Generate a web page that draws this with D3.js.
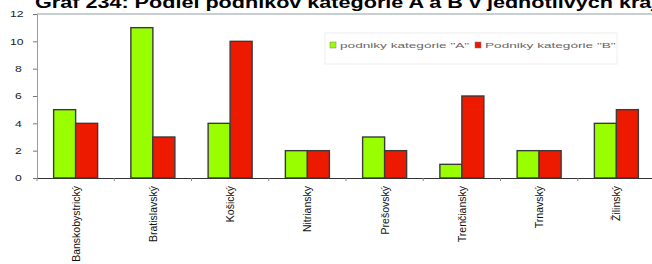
<!DOCTYPE html>
<html>
<head>
<meta charset="utf-8">
<script src="https://cdn.jsdelivr.net/npm/d3@7"></script>
<style>
  body { margin: 0; background: #fff; }
  svg { display: block; font-family: "Liberation Sans", Arial, sans-serif; }
</style>
</head>
<body>
<div id="chart"></div>
<script>
// data
var regions = ['Banskobystrický', 'Bratislavský', 'Košický', 'Nitriansky', 'Prešovský', 'Trenčiansky', 'Trnavský', 'Žilinský']
var catA = [5, 11, 4, 2, 3, 1, 2, 4]
var catB = [4, 3, 10, 2, 2, 6, 2, 5]
var yTicks = [0, 2, 4, 6, 8, 10, 12]
var seriesNames = ['podniky kategórie "A"', 'Podniky kategórie "B"']
var seriesColors = ['#99ff00', '#ee1a00']

var width = 652, height = 264
var margin = { top: 14, left: 37, bottom: 86 }
var plotW = 618
var plotH = height - margin.top - margin.bottom

// the source picture is stretched sideways, so widen texts a bit
function stretch(sel, k) {
    sel.each(function () {
        var w = this.getComputedTextLength()
        d3.select(this).attr('textLength', w * k).attr('lengthAdjust', 'spacingAndGlyphs')
    })
}

var svg = d3.select('#chart').append('svg')
    .attr('width', width)
    .attr('height', height)

// title, cut off at the top like the reference
svg.append('text')
    .attr('x', 35)
    .attr('y', 8)
    .style('font-size', '17px')
    .style('font-weight', 'bold')
    .attr('fill', '#000')
    .text('Graf 234: Podiel podnikov kategórie A a B v jednotlivých krajoch')
    .call(stretch, 1.27)

var g = svg.append('g')
    .attr('transform', `translate(${margin.left},${margin.top})`)

var x = d3.scaleBand().domain(regions).range([0, plotW])
var y = d3.scaleLinear().domain([0, 12]).range([plotH, 0])

// plot area frame (top line)
g.append('line')
    .attr('x1', 0).attr('x2', plotW)
    .attr('y1', 0).attr('y2', 0)
    .attr('stroke', '#8e9ea8')

// y axis
var yAxis = g.append('g')
    .call(d3.axisLeft(y).tickValues(yTicks).tickSize(4).tickPadding(13))
yAxis.select('.domain').attr('stroke', '#8e9ea8')
yAxis.selectAll('.tick line').attr('stroke', '#777')
yAxis.selectAll('text')
    .style('font-size', '9px')
    .attr('fill', '#222')
    .attr('text-anchor', 'start')
    .attr('x', function (d) { return d >= 10 ? -27 : -22 })
    .call(stretch, 1.35)

// bars
var barW = 22
var sub = d3.scaleBand().domain([0, 1]).range([0, barW * 2])
var rows = regions.map(function (r, i) { return { region: r, vals: [catA[i], catB[i]] } })

var groups = g.selectAll('g.grp')
    .data(rows)
    .enter()
    .append('g')
    .attr('class', 'grp')
    .attr('transform', function (d) { return `translate(${x(d.region) + x.bandwidth() / 2 - barW},0)` })

groups.selectAll('rect')
    .data(function (d) { return d.vals.map(function (v, k) { return { v: v, k: k } }) })
    .enter()
    .append('rect')
    .attr('x', function (d) { return sub(d.k) })
    .attr('y', function (d) { return y(d.v) })
    .attr('width', barW)
    .attr('height', function (d) { return plotH - y(d.v) })
    .style('fill', function (d) { return seriesColors[d.k] })
    .attr('stroke', '#3a3a3a')
    .style('stroke-width', '1.4px')

// x axis
var xAxisG = g.append('g')
    .attr('transform', `translate(0,${plotH})`)
    .call(d3.axisBottom(x).tickSize(0).tickPadding(0))
xAxisG.select('.domain').attr('stroke', '#333')
xAxisG.selectAll('.tick text').remove()

// small ticks between categories
g.selectAll('line.xtick')
    .data(regions.concat(['end']))
    .enter()
    .append('line')
    .attr('class', 'xtick')
    .attr('x1', function (d, i) { return i * x.bandwidth() })
    .attr('x2', function (d, i) { return i * x.bandwidth() })
    .attr('y1', plotH)
    .attr('y2', plotH + 3)
    .attr('stroke', '#888')

// rotated category labels
g.selectAll('text.xlab')
    .data(regions)
    .enter()
    .append('text')
    .attr('class', 'xlab')
    .attr('transform', function (d) { return `translate(${x(d) + x.bandwidth() / 2 + 4},${plotH + 8}) rotate(-90)` })
    .attr('text-anchor', 'end')
    .style('font-size', '10.5px')
    .attr('fill', '#111')
    .text(function (d) { return d })

// legend
var leg = svg.append('g').attr('transform', 'translate(325,33)')
leg.append('rect')
    .attr('width', 292).attr('height', 31)
    .attr('fill', '#fff')
    .attr('stroke', '#eee')

var legX = [5, 150]
seriesNames.forEach(function (name, i) {
    leg.append('rect')
        .attr('x', legX[i]).attr('y', 9)
        .attr('width', 6).attr('height', 6)
        .attr('fill', seriesColors[i])
        .attr('stroke', '#777')
        .style('stroke-width', '0.5px')
    leg.append('text')
        .attr('x', legX[i] + 10).attr('y', 15)
        .style('font-size', '8px')
        .attr('fill', '#666')
        .text(name)
        .call(stretch, 1.7)
})
</script>
</body>
</html>
